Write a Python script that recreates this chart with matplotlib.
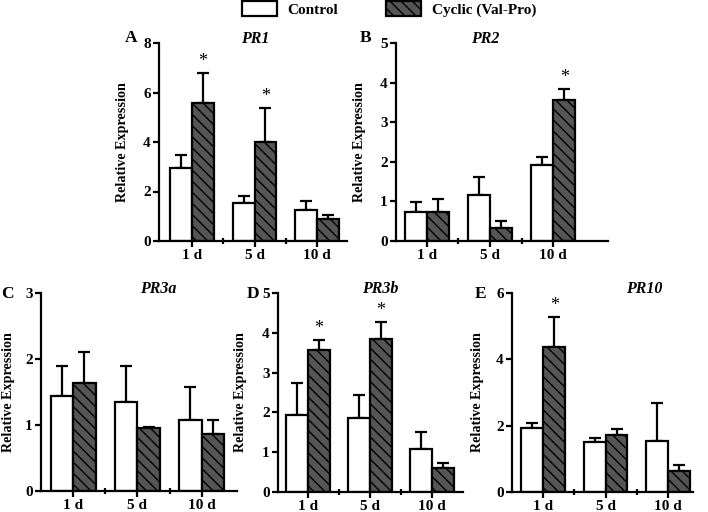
import numpy as np
import matplotlib
matplotlib.use("Agg")
import matplotlib.pyplot as plt
from matplotlib.patches import Patch

plt.rcParams['font.family'] = ['Liberation Serif', 'DejaVu Serif']
plt.rcParams['font.weight'] = 'bold'
plt.rcParams['hatch.linewidth'] = 1.0
plt.rcParams['hatch.color'] = 'black'

days = ["1 d", "5 d", "10 d"]
genes = ["PR1", "PR2", "PR3a", "PR3b", "PR10"]
letters = ["A", "B", "C", "D", "E"]
series = ["Control", "Cyclic (Val-Pro)"]

# mean values and upper error (sd)
ctrl_mean = {
    "PR1": [2.93, 1.52, 1.25],
    "PR2": [0.72, 1.15, 1.92],
    "PR3a": [1.44, 1.35, 1.08],
    "PR3b": [1.93, 1.85, 1.08],
    "PR10": [1.93, 1.50, 1.54],
}
ctrl_err = {
    "PR1": [0.54, 0.29, 0.35],
    "PR2": [0.26, 0.47, 0.19],
    "PR3a": [0.46, 0.55, 0.49],
    "PR3b": [0.82, 0.58, 0.43],
    "PR10": [0.16, 0.14, 1.14],
}
cyc_mean = {
    "PR1": [5.58, 4.00, 0.89],
    "PR2": [0.74, 0.34, 3.57],
    "PR3a": [1.64, 0.95, 0.86],
    "PR3b": [3.56, 3.84, 0.60],
    "PR10": [4.38, 1.72, 0.64],
}
cyc_err = {
    "PR1": [1.21, 1.38, 0.17],
    "PR2": [0.31, 0.16, 0.28],
    "PR3a": [0.47, 0.02, 0.22],
    "PR3b": [0.27, 0.43, 0.14],
    "PR10": [0.90, 0.17, 0.16],
}
# significant differences (asterisk over cyclic bar)
signif = {
    "PR1": [True, True, False],
    "PR2": [False, False, True],
    "PR3a": [False, False, False],
    "PR3b": [True, True, False],
    "PR10": [True, False, False],
}
ymax = {"PR1": 8, "PR2": 5, "PR3a": 3, "PR3b": 5, "PR10": 6}
ystep = {"PR1": 2, "PR2": 1, "PR3a": 1, "PR3b": 1, "PR10": 2}

W, H = 708, 512
fig = plt.figure(figsize=(W / 100, H / 100), dpi=100)

# axes boxes in pixels: left, top, right, bottom
boxes = {
    "PR1": (159, 43, 347, 241),
    "PR2": (396, 43, 608, 241),
    "PR3a": (41, 293, 237, 491),
    "PR3b": (278, 293, 463, 492),
    "PR10": (512, 293, 693, 492),
}
xlims = {
    "PR1": (-0.53, 2.48),
    "PR2": (-0.49, 2.87),
    "PR3a": (-0.5, 2.55),
    "PR3b": (-0.48, 2.5),
    "PR10": (-0.5, 2.4),
}
title_x = {"PR1": 0.51, "PR2": 0.42, "PR3a": 0.60, "PR3b": 0.55, "PR10": 0.73}
letter_pos = {"PR1": (131, 38), "PR2": (366, 38), "PR3a": (7, 294),
              "PR3b": (253, 294), "PR10": (481, 294)}
ylab_off = {"PR1": 30, "PR2": 30, "PR3a": 26, "PR3b": 31, "PR10": 28}

bw = 0.35
dark = '#555555'
lw = 1.6

for g, let in zip(genes, letters):
    l, t, r, b = boxes[g]
    ax = fig.add_axes([l / W, (H - b) / H, (r - l) / W, (b - t) / H])
    x = np.arange(len(days))
    ax.bar(x - bw / 2, ctrl_mean[g], bw, color='white', edgecolor='black',
           linewidth=lw, zorder=2)
    ax.bar(x + bw / 2, cyc_mean[g], bw, color=dark, edgecolor='black',
           linewidth=lw, hatch='\\\\\\', zorder=2)
    ax.errorbar(x - bw / 2, ctrl_mean[g], yerr=[np.zeros(3), ctrl_err[g]],
                fmt='none', ecolor='black', elinewidth=lw, capsize=4,
                capthick=lw, zorder=1)
    ax.errorbar(x + bw / 2, cyc_mean[g], yerr=[np.zeros(3), cyc_err[g]],
                fmt='none', ecolor='black', elinewidth=lw, capsize=4,
                capthick=lw, zorder=1)
    for i in range(3):
        if signif[g][i]:
            ax.annotate('*', (x[i] + bw / 2, cyc_mean[g][i] + cyc_err[g][i]),
                        xytext=(0, 2), textcoords='offset points',
                        ha='center', va='bottom', fontsize=13,
                        fontweight='normal')
    ax.set_xlim(*xlims[g])
    ax.set_ylim(0, ymax[g])
    ax.set_yticks(np.arange(0, ymax[g] + 0.01, ystep[g]))
    ax.set_xticks(x)
    ax.set_xticklabels(days)
    ax.set_xticks([0.5, 1.5], minor=True)
    ax.tick_params(axis='x', which='minor', direction='inout', length=4, width=lw)
    ax.tick_params(which='major', direction='out', length=4, width=lw,
                   labelsize=11, pad=2)
    for s in ['top', 'right']:
        ax.spines[s].set_visible(False)
    for s in ['left', 'bottom']:
        ax.spines[s].set_linewidth(lw)
    ax.set_ylabel('Relative Expression', fontsize=10.2, fontweight='bold')
    ax.yaxis.set_label_coords(-ylab_off[g] / (r - l), 0.5)
    ax.text(title_x[g], 1.02, g, transform=ax.transAxes, ha='center',
            va='center', fontsize=11.5, fontweight='bold', style='italic')
    lx, ly = letter_pos[g]
    fig.text(lx / W, 1 - ly / H, let, ha='center', va='center',
             fontsize=12.5, fontweight='bold')

handles = [Patch(facecolor='white', edgecolor='black', linewidth=lw),
           Patch(facecolor=dark, edgecolor='black', linewidth=lw, hatch='\\\\\\')]
leg_x = [231, 375]
for h, name, lxp in zip(handles, series, leg_x):
    lg = fig.legend([h], [name], loc='center left',
                    bbox_to_anchor=(lxp / W, 1 - 9 / H), frameon=False,
                    handlelength=2.3, handleheight=1.1, handletextpad=0.7,
                    borderpad=0.2, prop={'weight': 'bold', 'size': 11})

fig.savefig('out.png', dpi=100)
